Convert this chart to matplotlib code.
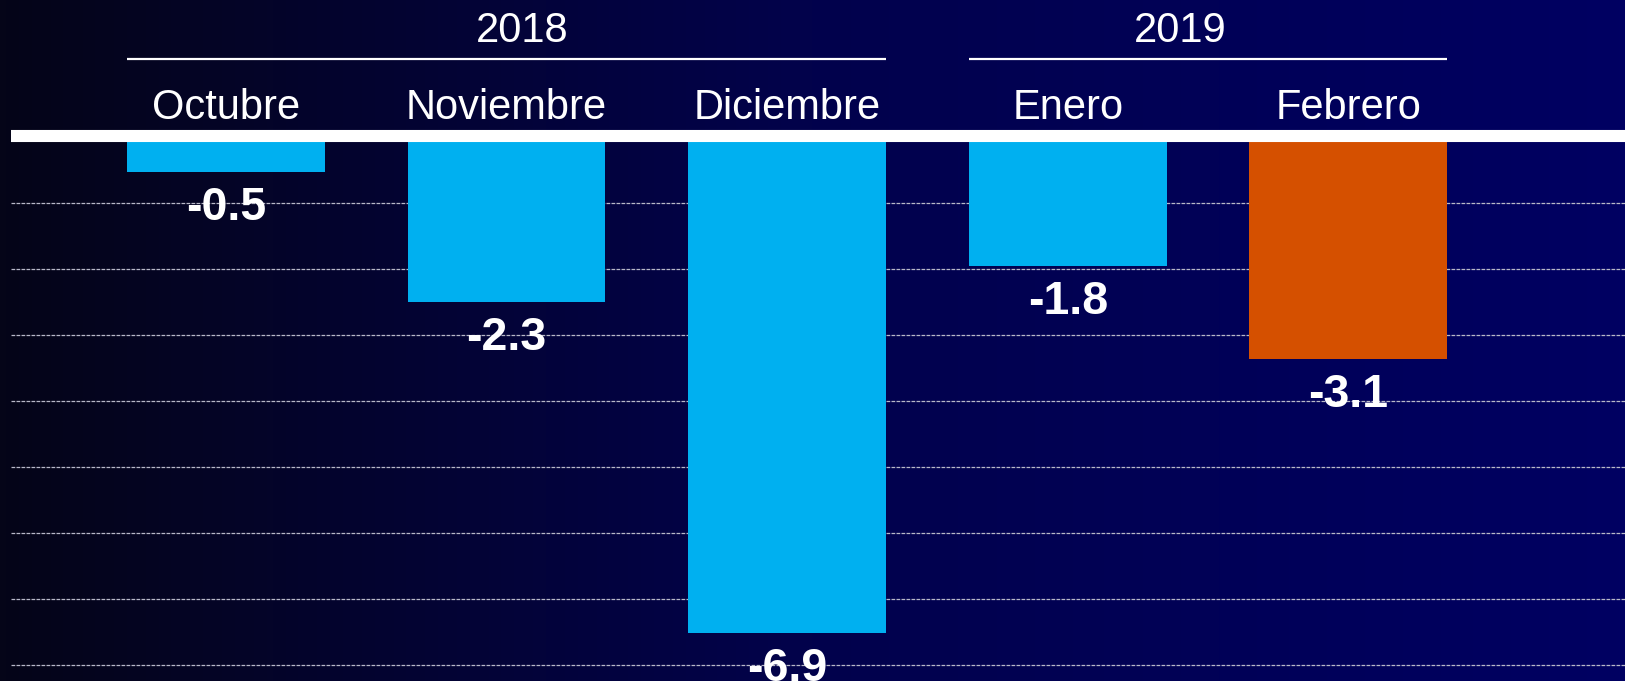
import numpy as np
import matplotlib
matplotlib.use('Agg')
import matplotlib.pyplot as plt
from matplotlib.colors import LinearSegmentedColormap

# Datos
meses = ['Octubre', 'Noviembre', 'Diciembre', 'Enero', 'Febrero']
valores = [-0.5, -2.3, -6.9, -1.8, -3.1]
colores = ['#00B0F0', '#00B0F0', '#00B0F0', '#00B0F0', '#D55000']
anios = ['2018', '2019']
grupos = [(0, 2), (3, 4)]  # primer y ultimo mes de cada año

plt.rcParams['font.family'] = ['Liberation Sans', 'DejaVu Sans']

fig = plt.figure(figsize=(16.25, 6.81), dpi=100)

# Fondo degradado
bg = fig.add_axes([0, 0, 1, 1])
bg.axis('off')
grad = np.linspace(0, 1, 512).reshape(1, -1)
cmap = LinearSegmentedColormap.from_list('fondo', ['#050518', '#02024c', '#000062'])
bg.imshow(grad, aspect='auto', cmap=cmap, extent=[0, 1, 0, 1])

ax = fig.add_axes([11 / 1625, 0, 1 - 11 / 1625, 1])
ax.patch.set_alpha(0)

x = np.arange(len(meses))
ancho = 0.705
ax.bar(x, valores, width=ancho, color=colores, zorder=2)

ax.set_xlim(-0.766, 4.986)
ax.set_ylim(-7.569, 1.889)

# Linea de cero
ax.axhline(0, color='white', lw=8.7, zorder=3)

# Lineas guia
ax.set_yticks(np.linspace(-0.93, -7.34, 8))
ax.grid(axis='y', color='#b8b8c8', ls=(0, (3, 1)), lw=0.9)
ax.tick_params(left=False, bottom=False, labelleft=False, labelbottom=False)
for s in ax.spines.values():
    s.set_visible(False)

# Etiquetas de valores
for xi, v in zip(x, valores):
    ax.annotate(f'{v:.1f}', (xi, v), xytext=(0, -10), textcoords='offset points',
                ha='center', va='top', fontsize=33.5, fontweight='bold',
                color='white', zorder=4)

# Meses
for xi, mes in zip(x, meses):
    ax.text(xi, 0.236, mes, ha='center', va='baseline', fontsize=30, color='white')

# Años
anio_x = [1.055, 3.40]
for anio, (i0, i1), ax_x in zip(anios, grupos, anio_x):
    ax.plot([i0 - ancho / 2, i1 + ancho / 2], [1.065, 1.065], color='white',
            lw=1.6, solid_capstyle='butt', clip_on=False)
    ax.text(ax_x, 1.306, anio, ha='center', va='baseline', fontsize=30, color='white')

fig.savefig('out.png', dpi=100)
